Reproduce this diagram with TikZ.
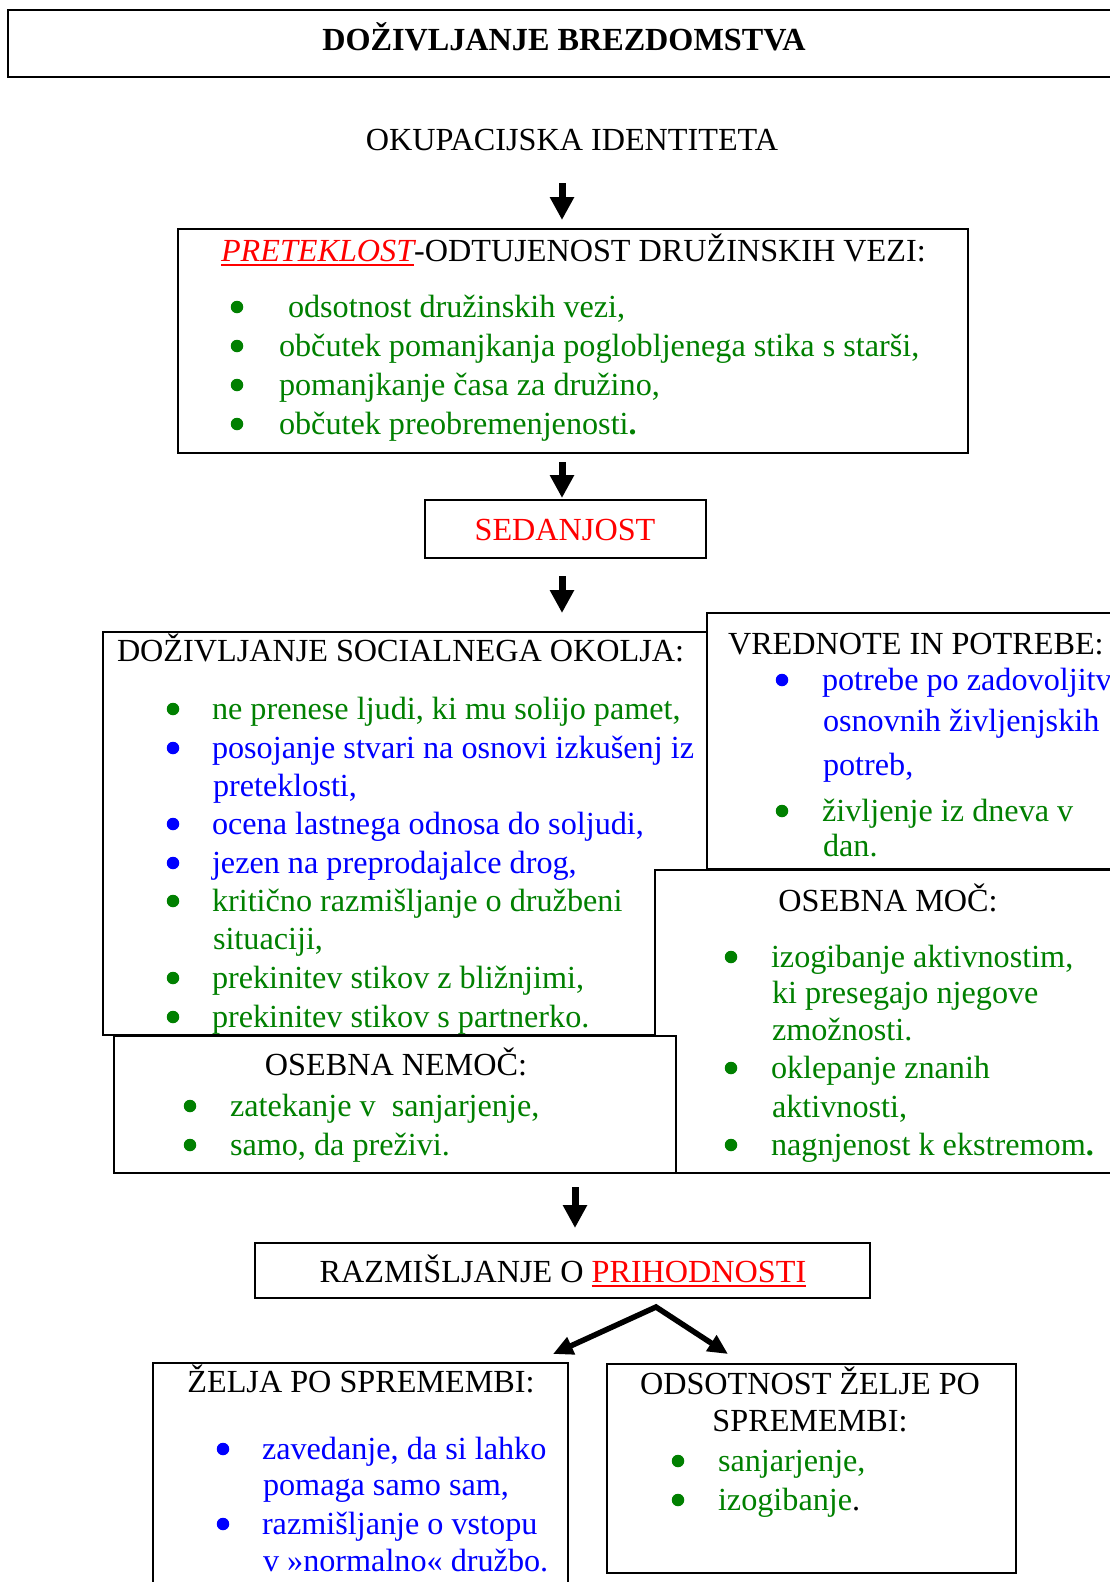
\documentclass[tikz,border=0pt]{standalone}
\usepackage{fontspec}
\setmainfont{Liberation Serif}
\usetikzlibrary{arrows.meta}
\definecolor{wgreen}{RGB}{0,128,0}
\definecolor{wblue}{RGB}{0,0,255}
\definecolor{wred}{RGB}{255,0,0}
\newcommand\redul[1]{\setbox0=\hbox{#1}\rlap{\rule[-5pt]{\wd0}{2.4pt}}\box0}
\AtBeginDocument{\fontsize{32.2}{38}\selectfont}
\begin{document}
\begin{tikzpicture}[x=1pt,y=-1pt,
  every node/.style={inner sep=0pt, outer sep=0pt},
  lbl/.style={anchor=base west},
  mid/.style={anchor=base},
  gtxt/.style={text=wgreen},
  btxt/.style={text=wblue},
  gdot/.style={circle, minimum size=12.5pt, fill=wgreen},
  bdot/.style={circle, minimum size=12.5pt, fill=wblue},
  box/.style={draw, line width=2pt, fill=white, anchor=north west, inner sep=0pt},
  openbox/.style={fill=white, anchor=north west, inner sep=0pt},
  edgeline/.style={line width=2pt},
  bigarrow/.style={line width=7pt, -{Triangle[width=23pt,length=23pt]}},
  brarrow/.style={line width=5.5pt, line join=miter, {Triangle[width=18pt,length=20pt]}-{Triangle[width=18pt,length=20pt]}}
]
\useasboundingbox (0,0) rectangle (1110,1582);
\fill[white] (0,0) rectangle (1110,1582);
\clip (0,0) rectangle (1110,1582);

% title
\node[openbox, minimum width=1102, minimum height=67] (tbox) at (8,10) {};
\draw[line width=2.5pt] (tbox.north east) -- (tbox.north west) -- (tbox.south west) -- (tbox.south east);
\node[mid, font=\bfseries] (title) at (564,50) {DOŽIVLJANJE BREZDOMSTVA};

\node[mid] (okup) at (572,150) {OKUPACIJSKA IDENTITETA};
\coordinate (a1) at (562,183);

% past
\node[box, minimum width=790, minimum height=224] (past) at (178,229) {};
\draw[bigarrow, shorten >=9pt] (a1) -- (a1 |- past.north);
\node[lbl] (pasth) at (221,261) {{\color{wred}\itshape\redul{PRETEKLOST}}-ODTUJENOST DRUŽINSKIH VEZI:};
\node[gdot] (pb1) at (237,307) {};
\node[lbl,gtxt] (pt1) at (288,317) {odsotnost družinskih vezi,};
\node[gdot] (pb2) at (237,346) {};
\node[lbl,gtxt] (pt2) at (279,356) {občutek pomanjkanja poglobljenega stika s starši,};
\node[gdot] (pb3) at (237,385) {};
\node[lbl,gtxt] (pt3) at (279,395) {pomanjkanje časa za družino,};
\node[gdot] (pb4) at (237,424) {};
\node[lbl,gtxt] (pt4) at (279,434) {občutek preobremenjenosti\textbf{.}};

% present
\coordinate (a2) at (562,462);
\node[box, minimum width=281, minimum height=58] (sed) at (425,500) {};
\draw[bigarrow, shorten >=2pt] (a2) -- (a2 |- sed.north);
\node[mid, text=wred] (sedt) at (565,540) {SEDANJOST};

% social environment
\coordinate (a3) at (562,576);
\node[box, minimum width=604, minimum height=403] (dso) at (103,632) {};
\draw[bigarrow, shorten >=19pt] (a3) -- (a3 |- dso.north);
\node[lbl] (dsoh) at (117,661) {DOŽIVLJANJE SOCIALNEGA OKOLJA:};
\node[gdot] (db1) at (173,709) {};
\node[lbl,gtxt] (dt1) at (212,719) {ne prenese ljudi, ki mu solijo pamet,};
\node[bdot] (db2) at (173,748) {};
\node[lbl,btxt] (dt2) at (212,758) {posojanje stvari na osnovi izkušenj iz};
\node[lbl,btxt] (dt2b) at (213,796) {preteklosti,};
\node[bdot] (db3) at (173,824) {};
\node[lbl,btxt] (dt3) at (212,834) {ocena lastnega odnosa do soljudi,};
\node[bdot] (db4) at (173,863) {};
\node[lbl,btxt] (dt4) at (212,873) {jezen na preprodajalce drog,};
\node[gdot] (db5) at (173,901) {};
\node[lbl,gtxt] (dt5) at (212,911) {kritično razmišljanje o družbeni};
\node[lbl,gtxt] (dt5b) at (213,949) {situaciji,};
\node[gdot] (db6) at (173,978) {};
\node[lbl,gtxt] (dt6) at (212,988) {prekinitev stikov z bližnjimi,};
\node[gdot] (db7) at (173,1017) {};
\node[lbl,gtxt] (dt7) at (212,1027) {prekinitev stikov s partnerko.};

% values and needs
\node[openbox, minimum width=403, minimum height=256] (vred) at (707,613) {};
\draw[edgeline] (vred.north east) -- (vred.north west) -- (vred.south west) -- (vred.south east);
\node[lbl] (vredh) at (728,654) {VREDNOTE IN POTREBE:};
\node[bdot] (vb1) at (782,680) {};
\node[lbl,btxt] (vt1) at (822,690) {potrebe po zadovoljitv};
\node[lbl,btxt] (vt1b) at (823,731) {osnovnih življenjskih};
\node[lbl,btxt] (vt1c) at (823,775) {potreb,};
\node[gdot] (vb2) at (782,811) {};
\node[lbl,gtxt] (vt2) at (822,821) {življenje iz dneva v};
\node[lbl,gtxt] (vt2b) at (823,856) {dan.};

% personal power
\node[openbox, minimum width=455, minimum height=303] (moc) at (655,870) {};
\draw[edgeline] (moc.north east) -- (moc.north west) -- (moc.south west) -- (moc.south east);
\node[mid] (moch) at (888,911) {OSEBNA MOČ:};
\node[gdot] (mb1) at (731,957) {};
\node[lbl,gtxt] (mt1) at (771,967) {izogibanje aktivnostim,};
\node[lbl,gtxt] (mt1b) at (772,1003) {ki presegajo njegove};
\node[lbl,gtxt] (mt1c) at (772,1040) {zmožnosti.};
\node[gdot] (mb2) at (731,1068) {};
\node[lbl,gtxt] (mt2) at (771,1078) {oklepanje znanih};
\node[lbl,gtxt] (mt2b) at (772,1117) {aktivnosti,};
\node[gdot] (mb3) at (731,1145) {};
\node[lbl,gtxt] (mt3) at (771,1155) {nagnjenost k ekstremom\textbf{.}};

% personal powerlessness
\node[box, minimum width=562, minimum height=137] (nem) at (114,1036) {};
\node[mid] (nemh) at (396,1075) {OSEBNA NEMOČ:};
\node[gdot] (nb1) at (190,1106) {};
\node[lbl,gtxt] (nt1) at (230,1116) {zatekanje v~ sanjarjenje,};
\node[gdot] (nb2) at (190,1145) {};
\node[lbl,gtxt] (nt2) at (230,1155) {samo, da preživi.};

% future
\coordinate (a4) at (575,1187);
\node[box, minimum width=615, minimum height=55] (razm) at (255,1243) {};
\draw[bigarrow, shorten >=15pt] (a4) -- (a4 |- razm.north);
\node[mid] (razmt) at (563,1282) {RAZMIŠLJANJE O {\color{wred}\redul{PRIHODNOSTI}}};

\coordinate (apex) at (656,1307);
\coordinate (tipL) at (553,1354);
\coordinate (tipR) at (728,1354);
\draw[brarrow] (tipL) -- (apex) -- (tipR);

% wish for change
\node[openbox, minimum width=415, minimum height=219] (zel) at (153,1363) {};
\draw[edgeline] (zel.south west) -- (zel.north west) -- (zel.north east) -- (zel.south east);
\node[mid] (zelh) at (361,1392) {ŽELJA PO SPREMEMBI:};
\node[bdot] (zb1) at (223,1449) {};
\node[lbl,btxt] (zt1) at (262,1459) {zavedanje, da si lahko};
\node[lbl,btxt] (zt1b) at (263,1495) {pomaga samo sam,};
\node[bdot] (zb2) at (223,1524) {};
\node[lbl,btxt] (zt2) at (262,1534) {razmišljanje o vstopu};
\node[lbl,btxt] (zt2b) at (263,1571) {v »normalno« družbo.};

% absence of wish for change
\node[box, minimum width=409, minimum height=209] (ods) at (607,1364) {};
\node[mid] (odsh) at (810,1394) {ODSOTNOST ŽELJE PO};
\node[mid] (odsh2) at (810,1431) {SPREMEMBI:};
\node[gdot] (ob1) at (678,1461) {};
\node[lbl,gtxt] (ot1) at (718,1471) {sanjarjenje,};
\node[gdot] (ob2) at (678,1500) {};
\node[lbl] (ot2) at (718,1510) {\textcolor{wgreen}{izogibanje}.};
\end{tikzpicture}
\end{document}
